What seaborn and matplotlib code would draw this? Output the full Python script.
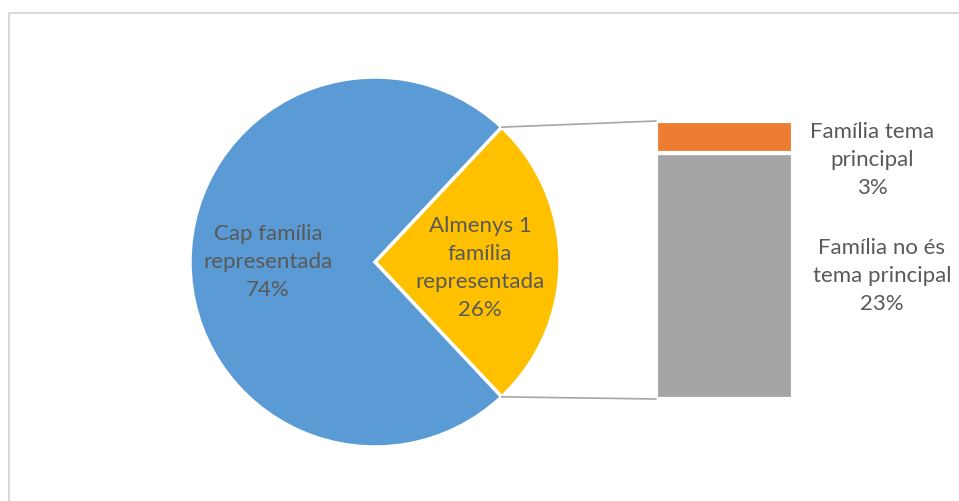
import numpy as np
import seaborn as sns
import matplotlib.pyplot as plt
from matplotlib.lines import Line2D

# pie data
pie_labels = ['Almenys 1\nfamília\nrepresentada', 'Cap família\nrepresentada']
pie_values = [26, 74]
pie_colors = ['#FFC000', '#5B9BD5']

# breakdown of the "Almenys 1" slice
bar_labels = ['Família no és\ntema principal', 'Família tema\nprincipal']
bar_values = [23, 3]
bar_colors = ['#A5A5A5', '#ED7D31']

sns.set_theme(style='white')
plt.rcParams['font.family'] = ['Lato', 'DejaVu Sans']
txt_color = '#595959'

fig = plt.figure(figsize=(9.59, 5.01), dpi=100)
ax = fig.add_axes([0, 0, 1, 1])

# pie, small slice centered on the right
cx, cy, r = 375, 239, 185
half = pie_values[0] / sum(pie_values) * 180
ax.pie(pie_values, colors=pie_colors, startangle=-half, center=(cx, cy),
       radius=r, frame=True, wedgeprops=dict(edgecolor='white', linewidth=2.5))
ax.set_xlim(0, 959)
ax.set_ylim(0, 501)
ax.set_aspect('equal')
ax.axis('off')

# stacked bar
bx, bw, bbot, btop = 724.5, 137, 102, 380
scale = (btop - bbot) / sum(bar_values)
bottom = bbot
for v, c in zip(bar_values, bar_colors):
    ax.bar(bx, v * scale, bottom=bottom, width=bw, color=c,
           edgecolor='white', linewidth=3)
    bottom += v * scale

# connector lines
a = np.deg2rad(half)
ax.plot([cx + r * np.cos(a), bx - bw / 2], [cy + r * np.sin(a), btop],
        color='#A5A5A5', lw=1.2)
ax.plot([cx + r * np.cos(a), bx - bw / 2], [cy - r * np.sin(a), bbot],
        color='#A5A5A5', lw=1.2)

# labels
fs = 16
kw = dict(ha='center', va='center', fontsize=fs, color=txt_color, linespacing=1.5)
ax.text(268, 239, f'{pie_labels[1]}\n{pie_values[1]}%', **kw)
ax.text(480, 233, f'{pie_labels[0]}\n{pie_values[0]}%', **kw)
ax.text(872, 341, f'{bar_labels[1]}\n{bar_values[1]}%', **kw)
ax.text(882, 225, f'{bar_labels[0]}\n{bar_values[0]}%', **kw)

# chart area border (top and left visible)
fig.add_artist(Line2D([9 / 959, 1], [1 - 13 / 501] * 2, color='#D9D9D9', lw=1.5))
fig.add_artist(Line2D([9 / 959] * 2, [0, 1 - 13 / 501], color='#D9D9D9', lw=1.5))

fig.savefig('out.png', dpi=100)
